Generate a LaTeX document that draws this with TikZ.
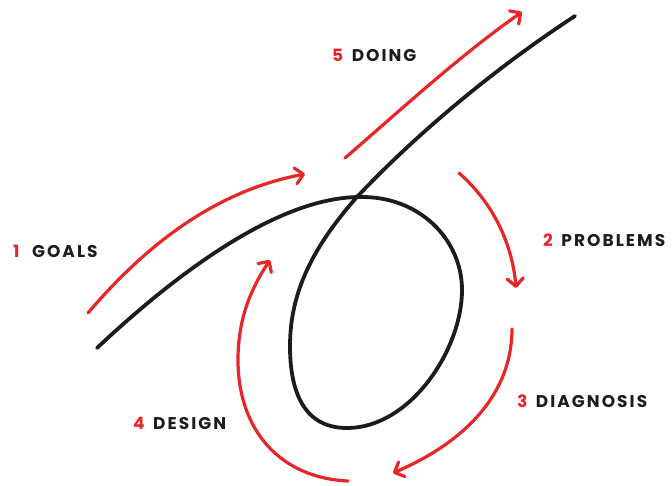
\documentclass[tikz,border=0pt]{standalone}
\usepackage{fontspec}
\setmainfont{Poppins}
\usetikzlibrary{arrows.meta,positioning}
\definecolor{accent}{RGB}{232,38,40}
\definecolor{ink}{RGB}{28,28,28}
\tikzstyle{track} = [draw=ink, line width=3.8pt, line cap=round]
\tikzstyle{stage} = [draw=accent, line width=3.2pt, line cap=round,
    -{Straight Barb[length=8pt,width=16pt,round]}]
\tikzstyle{stagename} = [inner sep=0pt, anchor=west, text=ink,
    font=\fontsize{17}{20}\selectfont\bfseries\addfontfeatures{LetterSpace=12}]
\newcommand{\stepnum}[1]{\textcolor{accent}{#1}\hspace{0.5em}}

\begin{document}
\begin{tikzpicture}[x=1pt, y=-1pt]
	\useasboundingbox (0,0) rectangle (672,485);
	% Place nodes
	\node [stagename] (goals) at (13,251) {\stepnum{1}\hspace{4pt}GOALS};
	\node [stagename] (problems) at (543,240) {\stepnum{2}PROBLEMS};
	\node [stagename] (diagnosis) at (517,401) {\stepnum{3}DIAGNOSIS};
	\node [stagename] (design) at (133,423) {\stepnum{4}DESIGN};
	\node [stagename] (doing) at (332,55) {\stepnum{5}DOING};
	% Loop of the black line
	\coordinate (start) at (97,348);
	\coordinate (top) at (360,197);
	\coordinate (east) at (462,290);
	\coordinate (bottom) at (347,428);
	\coordinate (west) at (290,346);
	\coordinate (cross) at (356,198);
	\coordinate (finish) at (575,16);
	\path [track] (start) .. controls (180,270) and (280,197) .. (top)
		.. controls (420,196) and (462,240) .. (east)
		.. controls (462,350) and (410,428) .. (bottom)
		.. controls (300,428) and (290,385) .. (west)
		.. controls (290,290) and (315,245) .. (cross)
		.. controls (420,130) and (500,65) .. (finish);
	% Red arrows
	\coordinate (goalsA) at (88,313);
	\coordinate (goalsB) at (305,174);
	\coordinate (problemsA) at (459,173);
	\coordinate (problemsB) at (516,288);
	\coordinate (diagnosisA) at (512,329);
	\coordinate (diagnosisB) at (393,473);
	\coordinate (designA) at (348,481);
	\coordinate (designM) at (238,360);
	\coordinate (designB) at (270,260);
	\coordinate (doingA) at (345,158);
	\coordinate (doingB) at (522,12);
	\path [stage] (goalsA) .. controls (150,240) and (220,190) .. (goalsB);
	\path [stage] (problemsA) .. controls (490,200) and (512,240) .. (problemsB);
	\path [stage] (diagnosisA) .. controls (512,390) and (470,440) .. (diagnosisB);
	\path [stage] (designA) .. controls (280,478) and (238,430) .. (designM)
		.. controls (238,320) and (250,290) .. (designB);
	\path [stage] (doingA) .. controls (395,115) and (460,55) .. (doingB);
\end{tikzpicture}
\end{document}
